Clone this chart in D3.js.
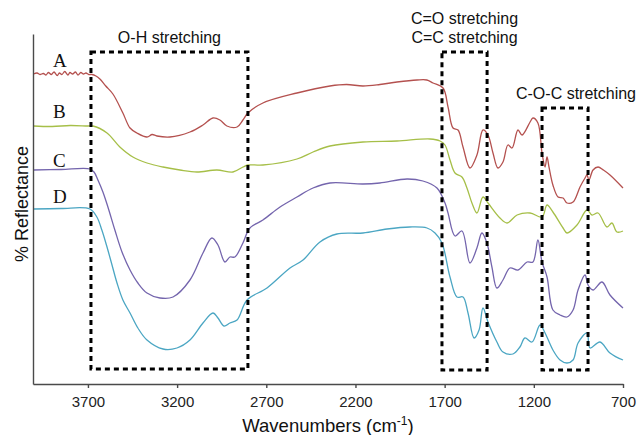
<!DOCTYPE html>
<html>

<head>
    <meta charset="utf-8">
    <style>
        body {
            margin: 0;
            background: #fff;
        }

        svg {
            font-family: "Liberation Sans", Arial, sans-serif;
        }

        .axis path,
        .axis line {
            stroke: #4a4a4a;
            stroke-width: 1.4;
        }

        .axis text {
            font-size: 15px;
            fill: #222;
        }

        .sample {
            font-family: "Liberation Serif", "Times New Roman", serif;
            font-size: 19px;
            fill: #111;
        }

        .note {
            font-size: 16px;
            fill: #111;
        }
    </style>
</head>

<body>
    <svg width="642" height="435"></svg>
</body>

<script src="https://d3js.org/d3.v7.min.js"></script>

<script>
    // wavenumber (cm-1) and reflectance (offset, arbitrary)
    let specA = [
        [4005, 62.0], [3985, 62.2], [3969, 61.9], [3950, 62.1], [3935, 61.8], [3922, 62.3], [3905, 61.9],
        [3890, 62.4], [3872, 61.7], [3860, 62.2], [3846, 61.9], [3830, 62.5], [3812, 61.8], [3801, 62.3],
        [3786, 62.0], [3770, 62.4], [3756, 61.8], [3740, 62.3], [3725, 62.0], [3711, 62.2], [3695, 61.9],
        [3678, 61.9], [3655, 61.6], [3633, 61.0], [3600, 59.6], [3560, 58.0], [3504, 54.2],
        [3464, 51.2], [3425, 50.2], [3369, 49.4], [3340, 49.9], [3313, 49.6], [3240, 49.4], [3128, 50.4],
        [3055, 51.8], [2999, 53.2], [2960, 52.8], [2921, 51.6], [2864, 51.4], [2831, 52.8], [2803, 54.2],
        [2719, 56.2], [2528, 58.2], [2343, 59.6], [2250, 59.9], [2158, 59.6], [2063, 59.9], [1967, 60.4],
        [1855, 60.8], [1800, 60.8], [1765, 60.2], [1709, 59.2], [1681, 55.4], [1653, 51.2], [1625, 50.8],
        [1597, 47.4], [1558, 43.2], [1519, 45.8], [1485, 50.8], [1457, 49.8], [1429, 46.2], [1401, 43.2],
        [1373, 44.4], [1345, 47.8], [1322, 47.2], [1289, 50.8], [1266, 49.8], [1221, 52.4], [1205, 53.2],
        [1177, 52.2], [1154, 46.2], [1137, 43.4], [1126, 45.4], [1115, 43.4], [1093, 39.8], [1064, 37.4],
        [1036, 37.2], [1014, 36.2], [980, 36.4], [941, 39.4], [913, 41.2], [902, 41.8], [891, 40.8],
        [868, 42.8], [840, 43.4], [810, 42.8], [773, 41.8], [700, 39.2]
    ];

    let specB = [
        [4005, 51.6], [3900, 51.5], [3800, 51.7], [3700, 51.6], [3672, 51.6], [3593, 50.2], [3521, 47.4],
        [3448, 45.4], [3369, 44.2], [3279, 43.4], [3184, 42.8], [3089, 42.4], [2977, 42.8], [2887, 42.4],
        [2831, 43.4], [2803, 43.8], [2719, 43.8], [2528, 45.0], [2438, 46.4], [2343, 47.6], [2158, 48.4],
        [1967, 48.6], [1782, 49.0], [1726, 48.6], [1698, 47.8], [1670, 44.8], [1642, 42.2], [1603, 41.4],
        [1575, 39.2], [1547, 36.2], [1519, 34.2], [1485, 37.4], [1457, 36.2], [1390, 33.2], [1350, 32.2],
        [1294, 33.8], [1221, 34.2], [1154, 33.4], [1126, 35.8], [1093, 34.4], [1036, 31.2], [1014, 30.2],
        [958, 31.8], [902, 34.8], [874, 33.8], [840, 34.2], [790, 31.4], [762, 32.2], [734, 30.4], [700, 30.6]
    ];

    let specC = [
        [4005, 42.8], [3850, 42.9], [3689, 43.0], [3666, 42.4], [3644, 40.8], [3616, 38.4], [3588, 35.4],
        [3549, 30.8], [3509, 26.4], [3464, 22.8], [3420, 20.2], [3369, 18.2], [3296, 17.2], [3223, 17.4],
        [3128, 20.8], [3055, 26.2], [3005, 29.2], [2971, 27.8], [2932, 24.4], [2904, 25.4], [2876, 25.4],
        [2831, 28.2], [2792, 31.2], [2719, 32.8], [2623, 35.4], [2528, 37.4], [2438, 39.2], [2343, 40.2],
        [2158, 40.0], [2063, 40.2], [1911, 41.0], [1822, 40.6], [1743, 39.2], [1698, 36.2], [1681, 34.2],
        [1642, 29.6], [1603, 30.6], [1558, 24.2], [1519, 27.2], [1491, 30.2], [1463, 28.2], [1435, 23.4],
        [1407, 19.2], [1373, 20.8], [1334, 23.2], [1289, 22.8], [1238, 24.4], [1205, 24.4], [1177, 28.8],
        [1154, 24.4], [1126, 21.4], [1093, 14.8], [1053, 13.8], [1014, 13.4], [980, 14.8], [952, 18.8],
        [913, 21.8], [896, 19.8], [868, 18.8], [818, 20.4], [773, 17.8], [700, 15.2]
    ];

    let specD = [
        [4005, 35.0], [3850, 35.1], [3689, 35.0], [3650, 33.4], [3622, 30.8], [3593, 27.4], [3565, 23.8],
        [3537, 20.2], [3504, 16.8], [3464, 14.2], [3420, 11.2], [3369, 8.8], [3279, 7.0], [3201, 7.2],
        [3128, 8.8], [3055, 12.2], [2999, 14.2], [2971, 13.2], [2937, 11.6], [2904, 12.2], [2864, 12.8],
        [2808, 16.8], [2696, 19.2], [2567, 23.2], [2494, 24.8], [2399, 28.4], [2304, 30.0], [2158, 30.2],
        [2023, 31.0], [1895, 31.4], [1799, 31.2], [1754, 30.2], [1715, 28.2], [1670, 21.4], [1631, 17.4],
        [1597, 17.4], [1569, 14.2], [1535, 9.2], [1507, 10.8], [1485, 15.2], [1457, 12.4], [1407, 8.4],
        [1373, 6.4], [1317, 6.0], [1278, 7.4], [1250, 9.2], [1210, 8.4], [1165, 11.8], [1137, 10.2],
        [1093, 6.8], [1053, 4.8], [1014, 4.2], [980, 4.8], [952, 8.2], [902, 10.2], [885, 7.2],
        [829, 8.4], [773, 6.2], [700, 4.8]
    ];

    let sampleNames = ["A", "B", "C", "D"];
    let sampleColors = ["#b4514f", "#a6bf48", "#7465ad", "#4ba6c3"];
    let labelLevels = [63.4, 53.2, 43.4, 36.2];

    // dashed regions: [from, to, top, bottom]
    let bandRanges = [[3683, 2803, 66.4, 3.0], [1715, 1462, 66.4, 2.8], [1154, 896, 55.2, 2.8]];
    let bandNotes = [["O-H stretching"], ["C=O stretching", "C=C stretching"], ["C-O-C stretching"]];

    let tickLabels = [3700, 3200, 2700, 2200, 1700, 1200, 700];

    let svg = d3.select("svg")

    let x = d3.scaleLinear()
        .domain([4008, 700])
        .range([33, 623])

    let y = d3.scaleLinear()
        .domain([0, 70])
        .range([384, 34])

    let line = d3.line()
        .x(d => x(d[0]))
        .y(d => y(d[1]))
        .curve(d3.curveCatmullRom.alpha(0.5))

    svg.append("g")
        .selectAll("path")
        .data([specA, specB, specC, specD])
        .join("path")
        .attr("d", line)
        .style("fill", "none")
        .style("stroke", (d, i) => sampleColors[i])
        .style("stroke-width", 1.3)

    // the boxes
    svg.append("g")
        .selectAll("rect")
        .data(bandRanges)
        .join("rect")
        .attr("x", d => x(d[0]))
        .attr("y", d => y(d[2]))
        .attr("width", d => x(d[1]) - x(d[0]))
        .attr("height", d => y(d[3]) - y(d[2]))
        .style("fill", "none")
        .style("stroke", "#000")
        .style("stroke-width", 3)
        .style("stroke-dasharray", "5,4")

    svg.append("g")
        .selectAll("text")
        .data(bandRanges)
        .join("text")
        .attr("class", "note")
        .attr("text-anchor", "middle")
        .attr("x", (d, i) => i == 2 ? 576 : (x(d[0]) + x(d[1])) / 2)
        .attr("y", (d, i) => y(d[2]) - 9 - (bandNotes[i].length - 1) * 19)
        .selectAll("tspan")
        .data((d, i) => bandNotes[i])
        .join("tspan")
        .attr("x", function () { return this.parentNode.getAttribute("x") })
        .attr("dy", (d, i) => i == 0 ? 0 : 19)
        .text(d => d)

    svg.append("g")
        .selectAll("text")
        .data(sampleNames)
        .join("text")
        .attr("class", "sample")
        .attr("x", 53)
        .attr("y", (d, i) => y(labelLevels[i]))
        .text(d => d)

    svg.append("g")
        .attr("class", "axis")
        .attr("transform", "translate(0,384)")
        .call(d3.axisBottom(x).tickValues(tickLabels).tickFormat(d3.format("d"))
            .tickSize(4).tickSizeOuter(0).tickPadding(8))

    svg.append("g")
        .attr("class", "axis")
        .attr("transform", "translate(33,0)")
        .call(d3.axisLeft(y).tickValues([]).tickSizeOuter(0))

    svg.selectAll(".axis .domain").style("fill", "none")

    let xTitle = svg.append("text")
        .attr("x", 328)
        .attr("y", 432)
        .attr("text-anchor", "middle")
        .style("font-size", "18.5px")
        .style("fill", "#111")

    xTitle.append("tspan").text("Wavenumbers (cm")
    xTitle.append("tspan").attr("dy", -7).style("font-size", "12px").text("-1")
    xTitle.append("tspan").attr("dy", 7).text(")")

    svg.append("text")
        .attr("transform", "translate(28,204) rotate(-90)")
        .attr("text-anchor", "middle")
        .style("font-size", "18px")
        .style("fill", "#111")
        .text("% Reflectance")

</script>

</html>
